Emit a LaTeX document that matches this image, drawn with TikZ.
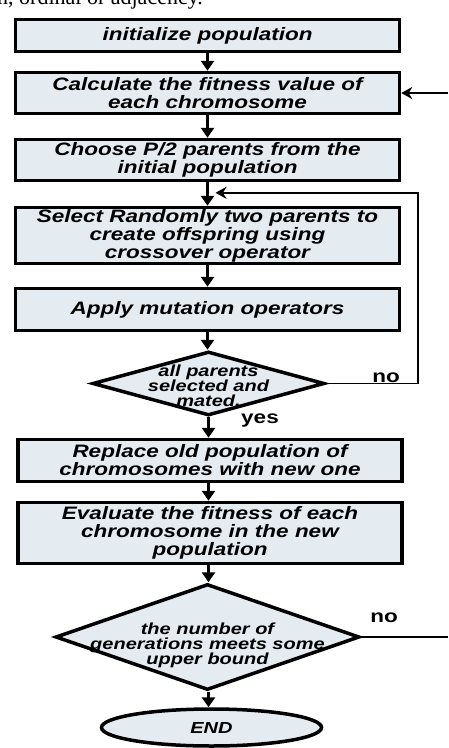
\documentclass[tikz,border=0pt]{standalone}
\usepackage{fontspec}
\setmainfont{Liberation Sans}
\newfontfamily\labelfont{Liberation Sans}[FakeStretch=1.25]
\newfontfamily\pageserif{Liberation Serif}
\usetikzlibrary{shapes.geometric,arrows.meta,calc}
\definecolor{boxfill}{RGB}{229,236,241}
\begin{document}
\begin{tikzpicture}[x=1pt,y=-1pt,
  stepbox/.style={draw, fill=boxfill, line width=3.5pt, minimum width=384pt,
    align=center, inner sep=0pt,
    font=\labelfont\bfseries\itshape\fontsize{18}{18}\selectfont},
  decision/.style={draw, fill=boxfill, line width=3.5pt, diamond, inner sep=0pt},
  dtext/.style={align=center, inner sep=0pt,
    font=\labelfont\bfseries\itshape\fontsize{16}{15}\selectfont},
  terminal/.style={draw, fill=boxfill, line width=3.5pt, ellipse, inner sep=0pt,
    font=\labelfont\bfseries\itshape\fontsize{16}{16}\selectfont},
  flow/.style={line width=3.5pt, -{Triangle[width=13pt,length=10pt]}},
  backline/.style={line width=1.8pt},
  backflow/.style={line width=1.8pt, -{Stealth[width=12pt,length=11pt]}},
  tag/.style={inner sep=0pt, font=\labelfont\bfseries\fontsize{18}{18}\selectfont}]
\useasboundingbox (0,0) rectangle (448,748);
\clip (0,0) rectangle (448,748);

% running text above the chart
\node[anchor=base west, inner sep=0pt, font=\pageserif\fontsize{22}{22}\selectfont]
  (cutline) at (-3,4) {n, ordinal or adjacency.};

% process boxes
\node[stepbox, minimum height=32pt] (b1) at (207.5,35.5) {initialize population};
\node[stepbox, minimum height=41pt] (b2) at (207.5,93)
  {Calculate the fitness value of\\each chromosome};
\node[stepbox, minimum height=41pt] (b3) at (207.5,160)
  {Choose P/2 parents from the\\initial population};
\node[stepbox, minimum height=56pt] (b4) at (207.5,235.5)
  {Select Randomly two parents to\\create offspring using\\crossover operator};
\node[stepbox, minimum height=42pt] (b5) at (207.5,309.5) {Apply mutation operators};

% first decision
\node[decision, minimum width=232pt, minimum height=64pt] (d1) at (208.5,383.5) {};
\node[dtext] (d1t) at (208.5,386) {all parents\\selected and\\mated.};

\node[stepbox, minimum height=42pt] (b6) at (210,460.5)
  {Replace old population of\\chromosomes with new one};
\node[stepbox, minimum height=61pt] (b7) at (210,533)
  {Evaluate the fitness of each\\chromosome in the new\\population};

% second decision
\node[decision, minimum width=304pt, minimum height=106pt] (d2) at (207.5,637) {};
\node[dtext] (d2t) at (207.5,645) {the number of\\generations meets some\\upper bound};

\node[terminal, minimum width=220pt, minimum height=37pt] (end) at (211.5,727.5) {END};

% main flow
\draw[flow] (b1.south) -- (b1.south |- b2.north);
\draw[flow] (b2.south) -- (b2.south |- b3.north);
\draw[flow] (b3.south) -- (b3.south |- b4.north);
\draw[flow] (b4.south) -- (b4.south |- b5.north);
\draw[flow] (b5.south) -- (b5.south |- d1.north);
\draw[flow] (d1.south) -- (d1.south |- b6.north);
\draw[flow] (b6.south -| d1.south) -- (d1.south |- b7.north);
\draw[flow] (b7.south -| d1.south) -- (d1.south |- d2.north);
\draw[flow] (d2.south -| d1.south) -- (d1.south |- end.north);

% loop back while parents remain
\coordinate (loopend) at ($(b3.south)!0.45!(b4.north)+(8,0)$);
\draw[backflow] (d1.east) -- ++(92,0) |- (loopend);

% return into the fitness step and exit of the second decision
\coordinate (fbstart) at (448,93);
\draw[backflow] (fbstart) -- (b2.east);
\coordinate (noout) at (448,637);
\draw[backline] (d2.east) -- (noout);

% branch labels
\node[tag] (no1) at (386,378) {no};
\node[tag] (yes1) at (260,421) {yes};
\node[tag] (no2) at (384,618) {no};
\end{tikzpicture}
\end{document}
